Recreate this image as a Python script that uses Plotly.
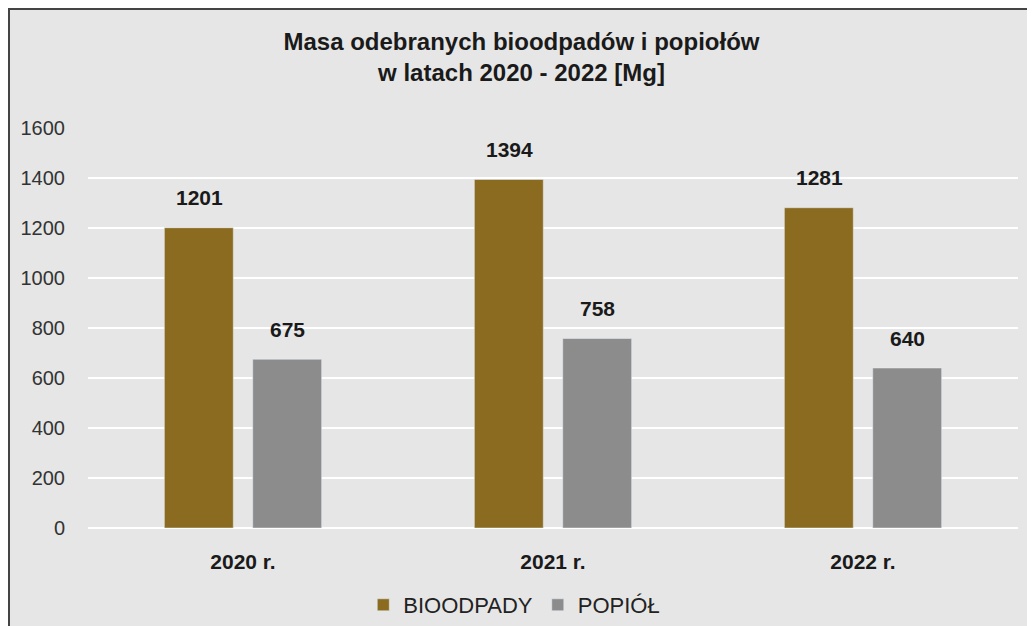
import plotly.graph_objects as go

YEARS = ["2020 r.", "2021 r.", "2022 r."]
BIOODPADY = [1201, 1394, 1281]
POPIOL = [675, 758, 640]
Y_TICKS = [0, 200, 400, 600, 800, 1000, 1200, 1400, 1600]

BIO_COLOR = "#8a6b1f"
POP_COLOR = "#8c8c8c"
FONT = "Liberation Sans, Arial, sans-serif"

fig = go.Figure()
fig.add_trace(go.Bar(x=YEARS, y=BIOODPADY, name="BIOODPADY", marker_color=BIO_COLOR))
fig.add_trace(go.Bar(x=YEARS, y=POPIOL, name="POPIÓŁ", marker_color=POP_COLOR))

# value labels above bars
for series, shift in ((BIOODPADY, -44), (POPIOL, 44)):
    for year, val in zip(YEARS, series):
        fig.add_annotation(x=year, y=val, text=f"<b>{val}</b>", showarrow=False,
                           xshift=shift, yshift=30, font=dict(size=21, color="#1a1a1a", family=FONT))

fig.update_layout(
    width=1027, height=618,
    margin=dict(l=80, r=17, t=120, b=98),
    paper_bgcolor="#e6e6e6", plot_bgcolor="#e6e6e6",
    font=dict(family=FONT, color="#333333"),
    barmode="group", bargap=0.43, bargroupgap=0.22,
    title=dict(text="<b>Masa odebranych bioodpadów i popiołów<br>w latach 2020 - 2022 [Mg]</b>",
               x=0.5, xanchor="center", y=0.932, yanchor="middle",
               font=dict(size=24, color="#1a1a1a", family=FONT)),
    legend=dict(orientation="h", x=0.296, xanchor="left", yref="container", y=0.034,
                yanchor="middle", font=dict(size=22, color="#222222"), itemwidth=30,
                traceorder="normal"),
    showlegend=True,
)
fig.update_xaxes(showgrid=False, tickfont=dict(size=21, color="#1a1a1a"),
                 tickprefix="<b>", ticksuffix="</b>", ticks="outside", ticklen=15,
                 tickcolor="rgba(0,0,0,0)", showline=False, automargin=False)
fig.update_yaxes(range=[0, 1600], tickvals=Y_TICKS, gridcolor="#ffffff", gridwidth=2,
                 zeroline=True, zerolinecolor="#ffffff", zerolinewidth=2,
                 tickfont=dict(size=20, color="#333333"), ticks="outside", ticklen=18,
                 tickcolor="rgba(0,0,0,0)", automargin=False)

# outer frame
fig.add_shape(type="rect", xref="paper", yref="paper",
              x0=-79 / 930, x1=1.05, y0=-0.4, y1=1 + 119 / 400,
              line=dict(color="#444444", width=2), fillcolor="rgba(0,0,0,0)", layer="below")

fig.write_html("out.html")
